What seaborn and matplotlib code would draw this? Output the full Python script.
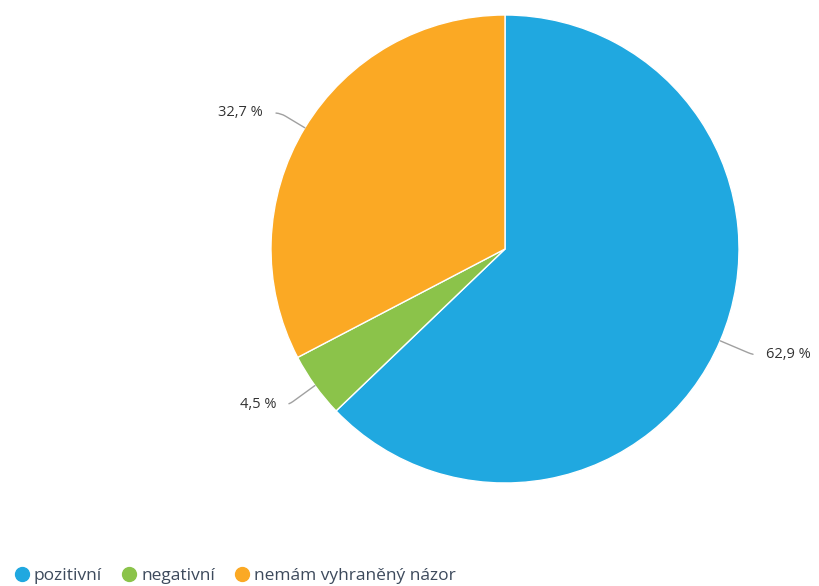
import numpy as np
import matplotlib
matplotlib.use("Agg")
import matplotlib.pyplot as plt
from matplotlib.lines import Line2D
import seaborn as sns

sns.set_theme(style="white")
plt.rcParams['font.family'] = ['Open Sans', 'DejaVu Sans']

# data
categories = ["pozitivní", "negativní", "nemám vyhraněný názor"]
values = [62.9, 4.5, 32.7]
labels = ["62,9 %", "4,5 %", "32,7 %"]
colors = ["#20a8e0", "#8bc34a", "#fba924"]

W, H = 819, 586
fig = plt.figure(figsize=(W / 100, H / 100), dpi=100)

# pie centre (505, 249) px, radius 234 px
cx, cy, r = 505, 249, 234
ax = fig.add_axes([(cx - r) / W, (H - cy - r) / H, 2 * r / W, 2 * r / H])

wedges, _ = ax.pie(values, colors=colors, startangle=90, counterclock=False,
                   radius=1, wedgeprops=dict(edgecolor="white", linewidth=1))
ax.set_xlim(-1, 1)
ax.set_ylim(-1, 1)
ax.set_aspect("equal")
ax.axis("off")

# label text positions (px) and alignment
label_pos = [(766, 355, "left"), (276, 405, "right"), (263, 113, "right")]

for w, lab, (tx, ty, ha) in zip(wedges, labels, label_pos):
    ang = np.deg2rad((w.theta1 + w.theta2) / 2)
    x, y = np.cos(ang), np.sin(ang)
    xt = (tx - cx) / r
    yt = (cy - ty) / r
    ax.annotate(lab, xy=(x, y), xytext=(xt, yt), ha=ha, va="center",
                fontsize=10.5, color="#333333", annotation_clip=False,
                arrowprops=dict(arrowstyle="-", color="#a0a0a0", lw=1,
                                shrinkA=7, shrinkB=0,
                                connectionstyle="angle,angleA=0,angleB=%d,rad=6"
                                % np.rad2deg(ang)))

handles = [Line2D([0], [0], marker="o", linestyle="", markersize=10,
                  markerfacecolor=c, markeredgecolor=c) for c in colors]
fig.legend(handles, categories, loc="center left",
           bbox_to_anchor=(0.0, 1 - 576 / H), ncol=3, frameon=False,
           handlelength=0.7, handletextpad=0.35, columnspacing=1.2,
           prop=dict(size=12.5), labelcolor="#3d4a5c")

fig.savefig("out.png", dpi=100)
